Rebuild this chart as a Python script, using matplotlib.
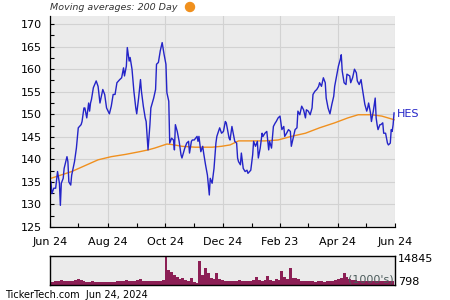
import matplotlib
matplotlib.use('Agg')
import matplotlib.pyplot as plt
import pandas as pd

START = pd.Timestamp('2023-06-24')

# price samples: days after START, closing price
price_day = [1, 2, 4, 6, 8, 10, 11, 12, 14, 15, 18, 19, 20, 22, 23, 26, 28, 30, 33, 34,
             36, 37, 39, 41, 42, 43, 44, 46, 49, 51, 53, 56, 58, 60, 63, 65, 67, 69, 71, 74,
             76, 78, 79, 81, 82, 84, 85, 87, 89, 91, 92, 94, 96, 97, 99, 101, 102, 104, 106, 107,
             110, 112, 113, 115, 117, 119, 121, 123, 124, 126, 127, 129, 131, 132, 133, 135, 137, 139, 140, 143,
             145, 147, 148, 150, 151, 153, 156, 157, 158, 160, 162, 163, 165, 167, 169, 170, 172, 174, 176, 177,
             180, 182, 184, 186, 187, 190, 191, 193, 194, 196, 198, 199, 200, 202, 203, 205, 207, 209, 210, 213,
             215, 216, 218, 220, 221, 223, 225, 226, 228, 230, 232, 233, 235, 237, 239, 240, 242, 244, 246, 248,
             249, 251, 253, 255, 256, 258, 260, 262, 263, 265, 267, 269, 271, 272, 274, 276, 278, 279, 281, 283,
             285, 286, 288, 290, 292, 293, 295, 297, 299, 301, 302, 304, 306, 308, 309, 310, 312, 314, 315, 318,
             319, 321, 323, 325, 326, 328, 330, 331, 333, 334, 336, 337, 338, 340, 341, 343, 345, 346, 347, 348,
             350, 351, 353, 354, 356, 358, 359, 361, 362, 363, 364, 365]
price = [135.0, 132.4, 133.6, 133.6, 137.3, 134.7, 129.8, 134.7, 135.8, 138.0, 140.6, 139.5, 135.0, 134.3, 136.5, 139.5, 142.5, 147.0, 147.7, 148.4,
         151.4, 151.4, 149.2, 152.5, 150.7, 152.5, 153.3, 155.9, 157.4, 156.2, 152.5, 155.5, 154.4, 151.4, 150.1, 151.8, 154.4, 154.4, 157.0, 157.7,
         158.1, 160.3, 158.5, 160.7, 164.8, 161.8, 162.6, 160.0, 155.1, 151.4, 150.1, 153.6, 157.7, 155.1, 151.8, 149.2, 148.4, 142.1, 147.7, 151.4,
         153.6, 155.5, 161.1, 161.5, 164.1, 165.9, 163.3, 161.1, 154.8, 152.9, 143.6, 144.7, 144.3, 142.1, 147.7, 146.2, 144.0, 141.0, 140.3, 142.5,
         143.6, 144.0, 141.4, 144.0, 144.3, 144.3, 145.1, 144.0, 145.1, 141.7, 142.9, 141.4, 138.8, 136.5, 132.1, 135.8, 134.7, 138.0, 143.6, 145.1,
         147.0, 145.8, 146.2, 148.4, 148.1, 144.7, 144.3, 147.3, 146.2, 144.0, 143.6, 140.3, 139.5, 138.8, 141.4, 138.0, 137.3, 137.6, 136.9, 137.6,
         141.0, 144.0, 142.9, 144.0, 140.3, 142.5, 145.8, 145.1, 145.8, 146.2, 142.1, 144.0, 142.5, 147.3, 148.1, 148.4, 149.2, 149.6, 146.6, 147.3,
         145.1, 145.8, 146.6, 146.2, 142.9, 144.7, 146.6, 147.0, 150.7, 149.9, 151.8, 151.0, 149.2, 151.0, 150.7, 149.9, 151.4, 154.4, 155.1, 155.5,
         156.2, 157.0, 156.2, 158.1, 157.0, 153.6, 151.4, 150.1, 152.2, 154.0, 156.2, 158.5, 160.7, 162.2, 163.2, 159.6, 157.0, 156.6, 158.9, 158.5,
         157.0, 158.1, 160.0, 159.2, 157.4, 156.6, 157.7, 156.2, 153.6, 152.2, 150.7, 151.4, 152.5, 150.3, 148.4, 150.7, 153.6, 149.2, 147.7, 146.6,
         147.7, 147.7, 148.1, 145.8, 145.8, 143.6, 143.2, 143.6, 146.6, 146.2, 147.7, 150.3]

# 200 day moving average
ma_day = [1, 23, 51, 65, 80, 95, 104, 111, 124, 129, 140, 154, 172, 182, 191, 200,
          214, 228, 242, 256, 271, 286, 302, 316, 327, 341, 352, 365]
ma200 = [135.8, 137.3, 139.9, 140.6, 141.1, 141.7, 142.1, 142.5, 143.4, 143.3, 142.9, 142.7, 142.7, 142.9, 143.2, 144.1,
         144.1, 144.1, 144.3, 145.1, 145.8, 147.0, 148.1, 149.2, 149.9, 149.9, 149.6, 148.8]

# volume (1000's), one bar every 3 days
vol_day = list(range(0, 366, 3))
volume = [1800, 1700, 1900, 2000, 2560, 1900, 2100, 1800, 2200, 2800, 2900, 2400, 2000, 1700, 1700, 1800,
          1600, 1500, 1400, 1300, 1500, 1400, 1600, 1500, 2000, 2100, 1900, 2600, 2200, 1900, 2300, 2500,
          3100, 2000, 2200, 1900, 2100, 2000, 2300, 2100, 2500, 14845, 7800, 6400, 5100, 4300, 2900, 3400,
          2500, 2300, 3400, 1700, 798, 12300, 5100, 8550, 6000, 3400, 2900, 6000, 3000, 2400, 2200, 2000,
          2300, 1900, 2100, 2400, 2200, 2000, 2300, 2100, 2500, 3900, 2600, 2200, 2700, 4600, 2500, 2200,
          2900, 2400, 7200, 3900, 2900, 8550, 3600, 3400, 2900, 2200, 2100, 2300, 2200, 2000, 1700, 2100,
          2200, 1700, 2000, 1800, 2300, 2600, 2900, 3400, 6300, 4300, 3200, 2600, 2400, 2200, 2000, 2200,
          1900, 2100, 1800, 2000, 2200, 1900, 2100, 2000, 1800, 2000]

tick_dates = ['2023-06-24', '2023-08-24', '2023-10-24', '2023-12-24', '2024-02-23', '2024-04-24', '2024-06-24']
tick_labels = ['Jun 24', 'Aug 24', 'Oct 24', 'Dec 24', 'Feb 23', 'Apr 24', 'Jun 24']
minor_dates = ['2023-07-24', '2023-09-24', '2023-11-24', '2024-01-24', '2024-03-24', '2024-05-24']

BG = '#ebebeb'
GRID = '#d2d2d2'
BLUE = '#2424c8'
ORANGE = '#f0901e'
VOLC = '#8c1f55'

plt.rcParams['font.family'] = 'DejaVu Sans'

def to_dates(days):
    return START + pd.to_timedelta(days, unit='D')

fig = plt.figure(figsize=(4.5, 3), dpi=100)
ax = fig.add_axes([50 / 450, 1 - 227 / 300, 345 / 450, 211 / 300])
ax.set_facecolor(BG)

ax.plot(to_dates(ma_day), ma200, color=ORANGE, lw=1.0)
ax.plot(to_dates(price_day), price, color=BLUE, lw=1.0)

ax.set_xlim(pd.Timestamp('2023-06-24'), pd.Timestamp('2024-06-24'))
ax.set_ylim(125, 171.8)
ax.set_yticks(range(125, 171, 5))
ax.set_yticks([x + 2.5 for x in range(125, 170, 5)], minor=True)
ax.set_xticks(pd.to_datetime(tick_dates))
ax.set_xticklabels(tick_labels)
ax.set_xticks(pd.to_datetime(minor_dates), minor=True)
ax.tick_params(which='both', direction='in', length=3, width=0.8, labelsize=8, colors='black')
ax.tick_params(axis='x', pad=7)
ax.tick_params(axis='y', pad=6)
ax.grid(True, which='major', color=GRID, lw=0.8)
ax.set_axisbelow(True)
for s in ['top', 'right']:
    ax.spines[s].set_visible(False)
for s in ['left', 'bottom']:
    ax.spines[s].set_linewidth(0.9)

ax.text(1.006, (150 - 125) / (171.8 - 125), 'HES', transform=ax.transAxes,
        color=BLUE, fontsize=8, va='center', ha='left')

fig.text(50 / 450, 1 - 8 / 300, 'Moving averages: 200 Day', fontsize=6.8,
         style='italic', color='#333333', va='center', ha='left')
fig.patches.append(matplotlib.patches.Ellipse((190 / 450, 1 - 7 / 300), 9 / 450, 9 / 300,
                                              transform=fig.transFigure, color=ORANGE))

# volume panel
vax = fig.add_axes([50 / 450, 1 - 285 / 300, 345 / 450, 29 / 300])
vax.set_facecolor(BG)
vax.bar(to_dates(vol_day), volume, width=3.0, color=VOLC, align='center')
vax.set_xlim(pd.Timestamp('2023-06-24'), pd.Timestamp('2024-06-24'))
vax.set_ylim(0, max(volume))
vax.set_xticks([])
vax.set_yticks([])
for s in vax.spines.values():
    s.set_linewidth(1.0)
vax.text(1.008, 0.88, str(max(volume)), transform=vax.transAxes, fontsize=8, va='center', ha='left')
vax.text(1.008, 0.12, str(min(volume)), transform=vax.transAxes, fontsize=8, va='center', ha='left')
vax.text(0.995, 0.02, "(1000's)", transform=vax.transAxes, fontsize=8, va='bottom', ha='right',
         color='#4a5a5a')

fig.text(5 / 450, 1 - 295 / 300, 'TickerTech.com  Jun 24, 2024', fontsize=7,
         va='center', ha='left', color='black')

plt.savefig('out.png', dpi=100)
